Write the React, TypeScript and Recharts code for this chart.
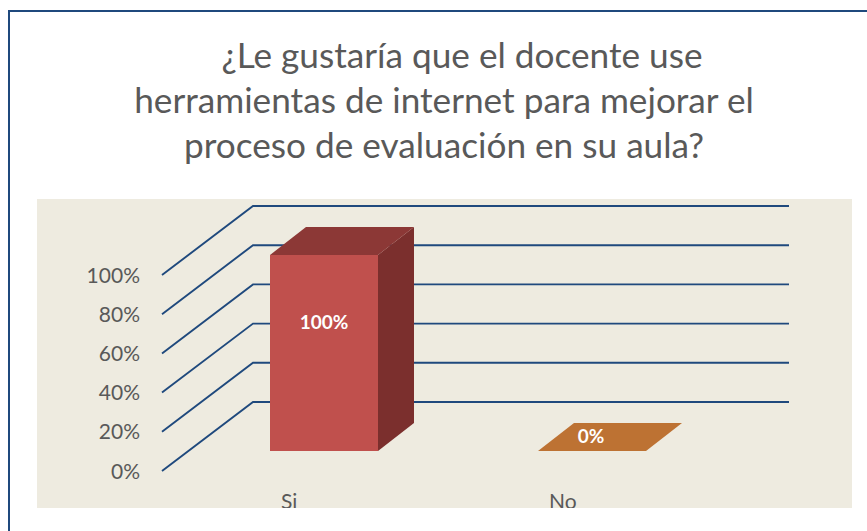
import { Bar, BarChart, CartesianGrid, LabelList, XAxis, YAxis } from 'recharts'

const categories = ['Si', 'No']
const percentages = [100, 0]
const valueTicks = [0, 20, 40, 60, 80, 100]
const titleLines = [
  '¿Le gustaría que el docente use',
  'herramientas de internet para mejorar el',
  'proceso de evaluación en su aula?',
]
const frontColors = ['#C0504D', '#D07A35']
const topColors = ['#8C3836', '#BD7233']
const sideColors = ['#7B2F2D', '#8F5525']

const data = categories.map((name, i) => ({ name, value: percentages[i] }))

const FONT = 'Lato, sans-serif'
const TEXT = '#595959'
const NAVY = '#1F497D'
const BAR_DX = 36
const BAR_DY = 28

function GridLine(props: any) {
  const { x1, x2, y1 } = props
  return (
    <path
      key={props.key ?? y1}
      d={`M${x1 - 28},${y1 + 20} L${x1 + 63},${y1 - 49} L${x2 + 63},${y1 - 49}`}
      fill="none"
      stroke={NAVY}
      strokeWidth={1.9}
    />
  )
}

function Bar3D(props: any) {
  const { x, y, width, height, index } = props
  const b = y + height
  const r = x + width
  return (
    <g>
      <path
        d={`M${r},${y} L${r + BAR_DX},${y - BAR_DY} L${r + BAR_DX},${b - BAR_DY} L${r},${b} Z`}
        fill={sideColors[index]}
      />
      <path
        d={`M${x},${y} L${x + BAR_DX},${y - BAR_DY} L${r + BAR_DX},${y - BAR_DY} L${r},${y} Z`}
        fill={topColors[index]}
      />
      <rect x={x} y={y} width={width} height={height} fill={frontColors[index]} />
    </g>
  )
}

function BarLabel(props: any) {
  const { x, y, width, height, value } = props
  return (
    <text
      x={x + width / 2 - (height === 0 ? 1 : 0)}
      y={y + height - 16 - height * 0.577}
      textAnchor="middle"
      dominantBaseline="central"
      fill="#FFFFFF"
      fontFamily={FONT}
      fontSize={19}
      fontWeight={700}
    >
      {value}%
    </text>
  )
}

function YTick(props: any) {
  return (
    <text
      x={140}
      y={props.y + 19}
      textAnchor="end"
      dominantBaseline="central"
      fill={TEXT}
      fontFamily={FONT}
      fontSize={21}
    >
      {props.payload.value}%
    </text>
  )
}

function XTick(props: any) {
  return (
    <g>
      <clipPath id={`x-tick-clip-${props.index}`}>
        <rect x={0} y={0} width={867} height={508} />
      </clipPath>
      <text
        x={props.x - 43}
        y={props.y + 58}
        fill={TEXT}
        fontFamily={FONT}
        fontSize={21}
        clipPath={`url(#x-tick-clip-${props.index})`}
      >
        {props.payload.value}
      </text>
    </g>
  )
}

export default function App() {
  return (
    <div
      style={{
        position: 'absolute',
        left: 0,
        top: 0,
        width: 867,
        height: 531,
        overflow: 'hidden',
        background: '#fff',
      }}
    >
      <div
        style={{
          position: 'absolute',
          left: 8,
          top: 10,
          width: 900,
          height: 600,
          border: `2px solid ${NAVY}`,
        }}
      />
      <div
        style={{
          position: 'absolute',
          left: 37,
          top: 199,
          width: 815,
          height: 309,
          background: '#EEEBE0',
        }}
      />
      {titleLines.map((line, i) => (
        <div
          key={line}
          style={{
            position: 'absolute',
            left: i === 0 ? 18 : 0,
            width: 888,
            top: 32 + i * 45,
            textAlign: 'center',
            whiteSpace: 'nowrap',
            fontFamily: FONT,
            fontSize: 35.2,
            lineHeight: '45px',
            color: TEXT,
          }}
        >
          {line}
        </div>
      ))}
      <div style={{ position: 'absolute', left: 0, top: 0 }}>
        <BarChart
          width={867}
          height={531}
          data={data}
          barSize={108}
          margin={{ top: 255, right: 141, bottom: 0, left: 0 }}
        >
          <CartesianGrid vertical={false} horizontal={GridLine} />
          <XAxis
            dataKey="name"
            height={80}
            axisLine={false}
            tickLine={false}
            tickSize={0}
            tickMargin={0}
            tick={XTick}
            interval={0}
          />
          <YAxis
            width={190}
            domain={[0, 100]}
            ticks={valueTicks}
            axisLine={false}
            tickLine={false}
            tick={YTick}
          />
          <Bar dataKey="value" shape={Bar3D} isAnimationActive={false}>
            <LabelList dataKey="value" content={BarLabel} />
          </Bar>
        </BarChart>
      </div>
    </div>
  )
}
